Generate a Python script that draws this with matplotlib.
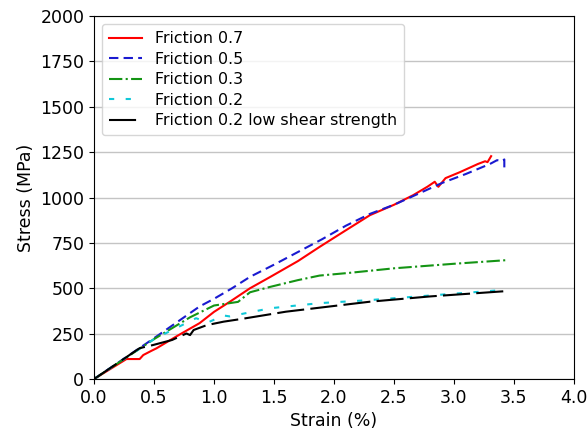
import matplotlib
matplotlib.use("Agg")
import matplotlib.pyplot as plt

red_x = [0, 0.27, 0.38, 0.41, 0.48, 0.52, 0.7, 0.88, 1.0, 1.13, 1.3, 1.47, 1.7, 1.88, 2.1, 2.3, 2.5, 2.66, 2.78, 2.84, 2.87, 2.93, 3.05, 3.2, 3.26, 3.28, 3.31]
red_y = [0, 110, 110, 132, 156, 169, 240, 308, 370, 425, 500, 563, 650, 728, 820, 903, 960, 1013, 1060, 1087, 1059, 1107, 1140, 1185, 1200, 1195, 1228]

blue_x = [0, 0.5, 0.88, 1.0, 1.15, 1.3, 1.5, 1.7, 1.9, 2.1, 2.3, 2.5, 2.7, 2.9, 3.1, 3.3, 3.36, 3.4, 3.42, 3.42]
blue_y = [0, 225, 400, 442, 500, 563, 630, 700, 770, 845, 910, 960, 1020, 1080, 1130, 1185, 1206, 1200, 1210, 1150]

green_x = [0, 0.5, 0.8, 1.0, 1.1, 1.2, 1.3, 1.47, 1.7, 1.88, 2.13, 2.5, 3.0, 3.44]
green_y = [0, 220, 340, 405, 415, 425, 478, 508, 545, 570, 585, 610, 635, 655]

cyan_x = [0, 0.5, 0.85, 0.95, 1.08, 1.13, 1.47, 1.88, 2.3, 2.8, 3.4]
cyan_y = [0, 220, 335, 312, 350, 345, 390, 418, 435, 460, 490]

black_x = [0, 0.38, 0.49, 0.65, 0.77, 0.8, 0.83, 0.94, 1.08, 1.22, 1.6, 2.3, 2.8, 3.45]
black_y = [0, 170, 187, 215, 251, 242, 270, 297, 316, 330, 371, 426, 455, 485]

labels = ["Friction 0.7", "Friction 0.5", "Friction 0.3", "Friction 0.2",
          "Friction 0.2 low shear strength"]

fig = plt.figure(figsize=(5.88, 4.30), dpi=100)
ax = fig.add_axes([0.160, 0.1186, 0.816, 0.844])

lw = 1.5
ax.plot(red_x, red_y, color="red", lw=lw, label=labels[0])
ax.plot(blue_x, blue_y, color="#1a1ad0", lw=lw, ls=(0, (4.5, 2.5)), label=labels[1])
ax.plot(green_x, green_y, color="#149414", lw=lw, ls="-.", label=labels[2])
ax.plot(cyan_x, cyan_y, color="#10c8d8", lw=lw, ls=(0, (2.5, 5.5)), label=labels[3])
ax.plot(black_x, black_y, color="black", lw=lw, ls=(0, (13, 3)), label=labels[4])

ax.set_xlim(0, 4.0)
ax.set_ylim(0, 2000)
ax.set_xticks([0, 0.5, 1.0, 1.5, 2.0, 2.5, 3.0, 3.5, 4.0])
ax.set_yticks(range(0, 2001, 250))
ax.tick_params(labelsize=12.5)
ax.yaxis.grid(True, color="#c4c4c4", lw=1)
ax.set_axisbelow(True)
ax.set_xlabel("Strain (%)", fontsize=12.5)
ax.set_ylabel("Stress (MPa)", fontsize=12.5)
ax.legend(loc="upper left", fontsize=11.4, handlelength=2.1, borderpad=0.45,
          labelspacing=0.35, handletextpad=0.8)

fig.savefig("out.png", dpi=100)
